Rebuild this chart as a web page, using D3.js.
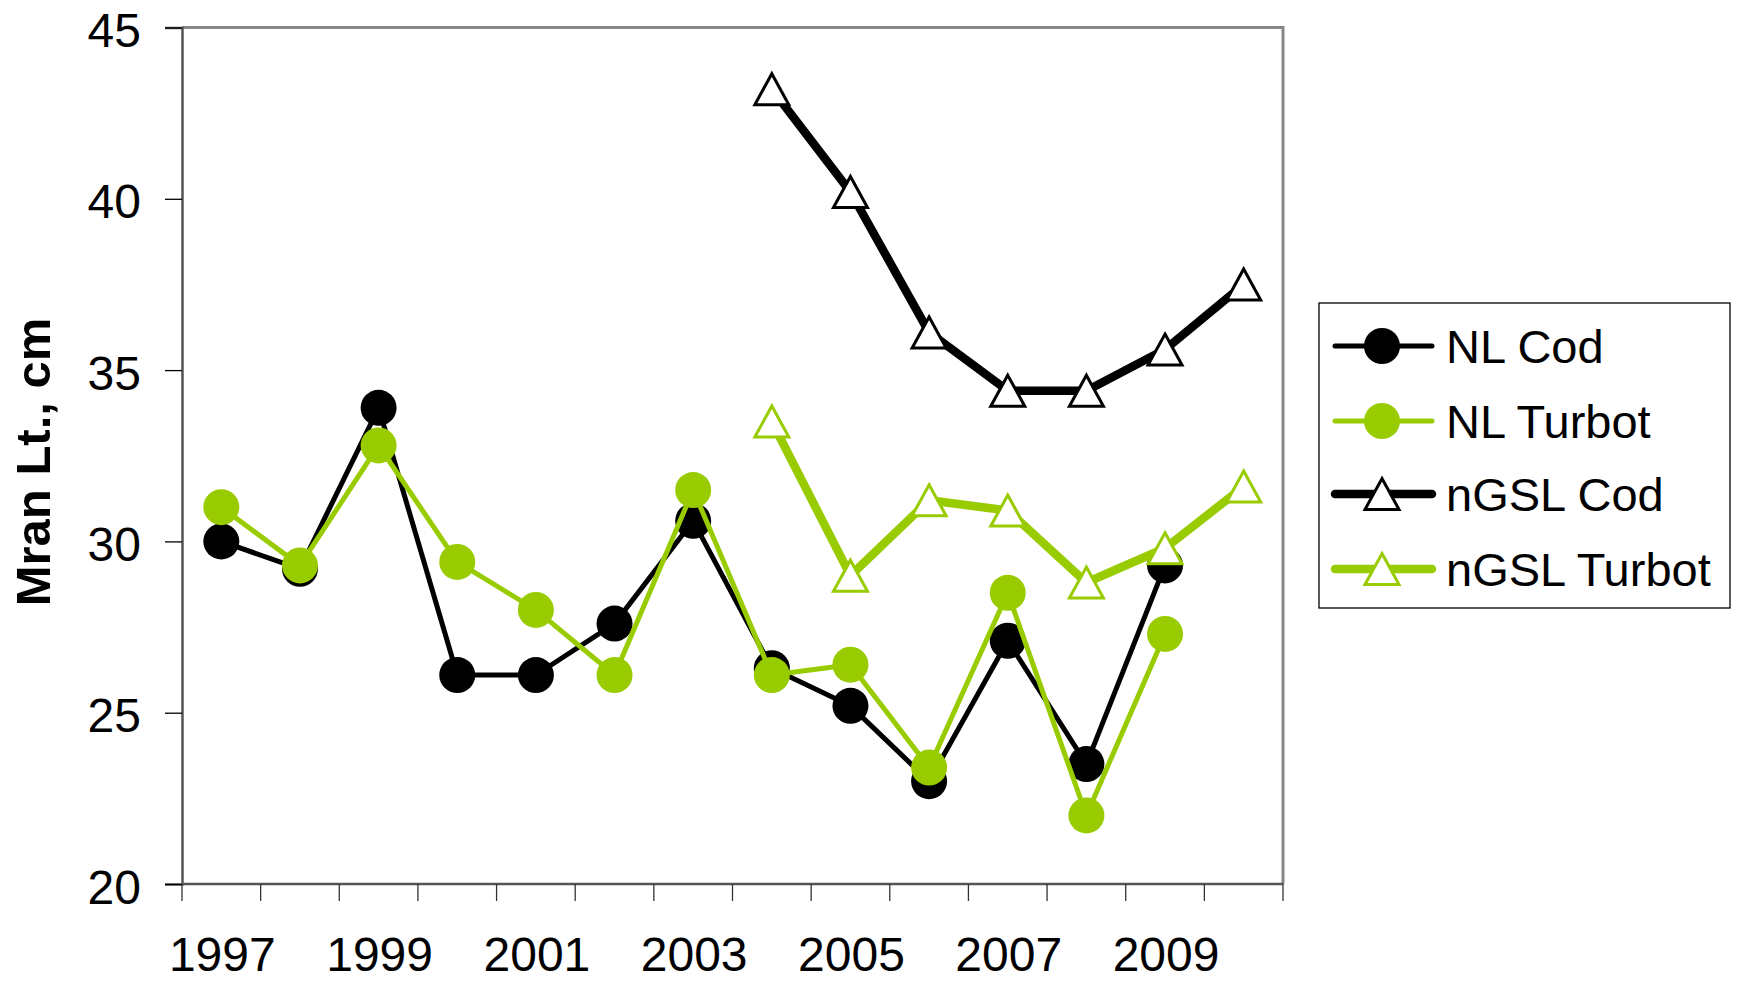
<!DOCTYPE html>
<html>
<head>
<meta charset="utf-8">
<script src="https://cdn.jsdelivr.net/npm/d3@7"></script>
<style>
  html, body { margin: 0; padding: 0; background: #fff; }
  svg { display: block; font-family: "Liberation Sans", Arial, sans-serif; }
</style>
</head>
<body>
<svg id="chart" width="1742" height="982"></svg>
<script>
// ---- data ----
const years = ["1997","1998","1999","2000","2001","2002","2003","2004","2005","2006","2007","2008","2009","2010"];
const xTickLabels = ["1997","1999","2001","2003","2005","2007","2009"];
const yTicks = [20, 25, 30, 35, 40, 45];
const nlCod     = [30.0, 29.2, 33.9, 26.1, 26.1, 27.6, 30.6, 26.3, 25.2, 23.0, 27.1, 23.5, 29.3, null];
const nlTurbot  = [31.0, 29.3, 32.8, 29.4, 28.0, 26.1, 31.5, 26.1, 26.4, 23.4, 28.5, 22.0, 27.3, null];
const ngslCod   = [null, null, null, null, null, null, null, 43.2, 40.2, 36.1, 34.4, 34.4, 35.6, 37.5];
const ngslTurbot= [null, null, null, null, null, null, null, 33.5, 29.0, 31.2, 30.9, 28.8, 29.8, 31.6];
const seriesNames = ["NL Cod", "NL Turbot", "nGSL Cod", "nGSL Turbot"];
const yTitle = "Mran Lt., cm";

const GREEN = "#99CC00";
const series = [
  { name: seriesNames[0], values: nlCod,      color: "#000", width: 5,   marker: "circle" },
  { name: seriesNames[1], values: nlTurbot,   color: GREEN,  width: 5,   marker: "circle" },
  { name: seriesNames[2], values: ngslCod,    color: "#000", width: 8.5, marker: "triangle" },
  { name: seriesNames[3], values: ngslTurbot, color: GREEN,  width: 8.5, marker: "triangle" }
];

const svg = d3.select("#chart");
const plot = { left: 182, right: 1283, top: 27.5, bottom: 884 };

const x = d3.scaleBand().domain(years).range([plot.left, plot.right]).padding(0);
const y = d3.scaleLinear().domain([20, 45]).range([plot.bottom, plot.top]);
const cx = d => x(d) + x.bandwidth() / 2;

// plot border (top & right, gray)
svg.append("path")
  .attr("d", `M${plot.left},${plot.top} H${plot.right} V${plot.bottom}`)
  .attr("fill", "none").attr("stroke", "#878787").attr("stroke-width", 3);

// y axis
const yAxis = d3.axisLeft(y).tickValues(yTicks).tickSize(17).tickFormat(d3.format("d"));
const gy = svg.append("g").attr("transform", `translate(${plot.left},0)`).call(yAxis);
gy.select(".domain").attr("stroke", "#555").attr("stroke-width", 2.5);
gy.selectAll(".tick line").attr("stroke", "#000").attr("stroke-width", 1.3);
gy.selectAll(".tick text")
  .attr("x", -41).attr("dy", 19).attr("font-size", 48)
  .attr("fill", "#000").attr("font-family", "Liberation Sans, Arial, sans-serif");

// x axis: ticks at category boundaries
const boundaries = years.map(d => x(d)).concat([plot.right]);
const gx = svg.append("g");
gx.append("line").attr("x1", plot.left).attr("x2", plot.right)
  .attr("y1", plot.bottom).attr("y2", plot.bottom)
  .attr("stroke", "#555").attr("stroke-width", 2.5);
gx.selectAll("line.tk").data(boundaries).enter().append("line")
  .attr("class", "tk")
  .attr("x1", d => d).attr("x2", d => d)
  .attr("y1", plot.bottom).attr("y2", plot.bottom + 17)
  .attr("stroke", "#333").attr("stroke-width", 1.3);
gx.selectAll("text").data(xTickLabels).enter().append("text")
  .attr("x", d => cx(d) + 1).attr("y", 971)
  .attr("text-anchor", "middle").attr("font-size", 48).attr("fill", "#000")
  .text(d => d);

// y title
svg.append("text")
  .attr("transform", "translate(50,462) rotate(-90)")
  .attr("text-anchor", "middle").attr("font-size", 49).attr("font-weight", "bold")
  .attr("fill", "#000").text(yTitle);

// markers
const triW = 34, triH = 31;
const triPath = `M0,${-triH/2} L${triW/2},${triH/2} L${-triW/2},${triH/2} Z`;
function drawMarker(g, type, color) {
  if (type === "circle") {
    g.append("circle").attr("r", 18).attr("fill", color);
  } else {
    g.append("path").attr("d", triPath).attr("fill", "#fff")
      .attr("stroke", color).attr("stroke-width", 3).attr("stroke-linejoin", "miter");
  }
}

const line = d3.line()
  .defined(d => d.v != null)
  .x(d => cx(d.year)).y(d => y(d.v));

series.forEach(s => {
  const pts = years.map((yr, i) => ({ year: yr, v: s.values[i] }));
  svg.append("path").datum(pts)
    .attr("d", line).attr("fill", "none")
    .attr("stroke", s.color).attr("stroke-width", s.width)
    .attr("stroke-linejoin", "round").attr("stroke-linecap", "round");
  pts.filter(p => p.v != null).forEach(p => {
    const g = svg.append("g").attr("transform", `translate(${cx(p.year)},${y(p.v)})`);
    drawMarker(g, s.marker, s.color);
  });
});

// legend
const legend = svg.append("g");
legend.append("rect").attr("x", 1319).attr("y", 303).attr("width", 411).attr("height", 305)
  .attr("fill", "#fff").attr("stroke", "#000").attr("stroke-width", 1.3);
const rowY = [346, 421, 494, 569];
series.forEach((s, i) => {
  const g = legend.append("g");
  g.append("line").attr("x1", 1335).attr("x2", 1432).attr("y1", rowY[i]).attr("y2", rowY[i])
    .attr("stroke", s.color).attr("stroke-width", s.width).attr("stroke-linecap", "round");
  const mg = g.append("g").attr("transform", `translate(1382,${rowY[i]})`);
  drawMarker(mg, s.marker, s.color);
  g.append("text").attr("x", 1446).attr("y", rowY[i] + 16.5)
    .attr("font-size", 47).attr("fill", "#000").text(s.name);
});
</script>
</body>
</html>
